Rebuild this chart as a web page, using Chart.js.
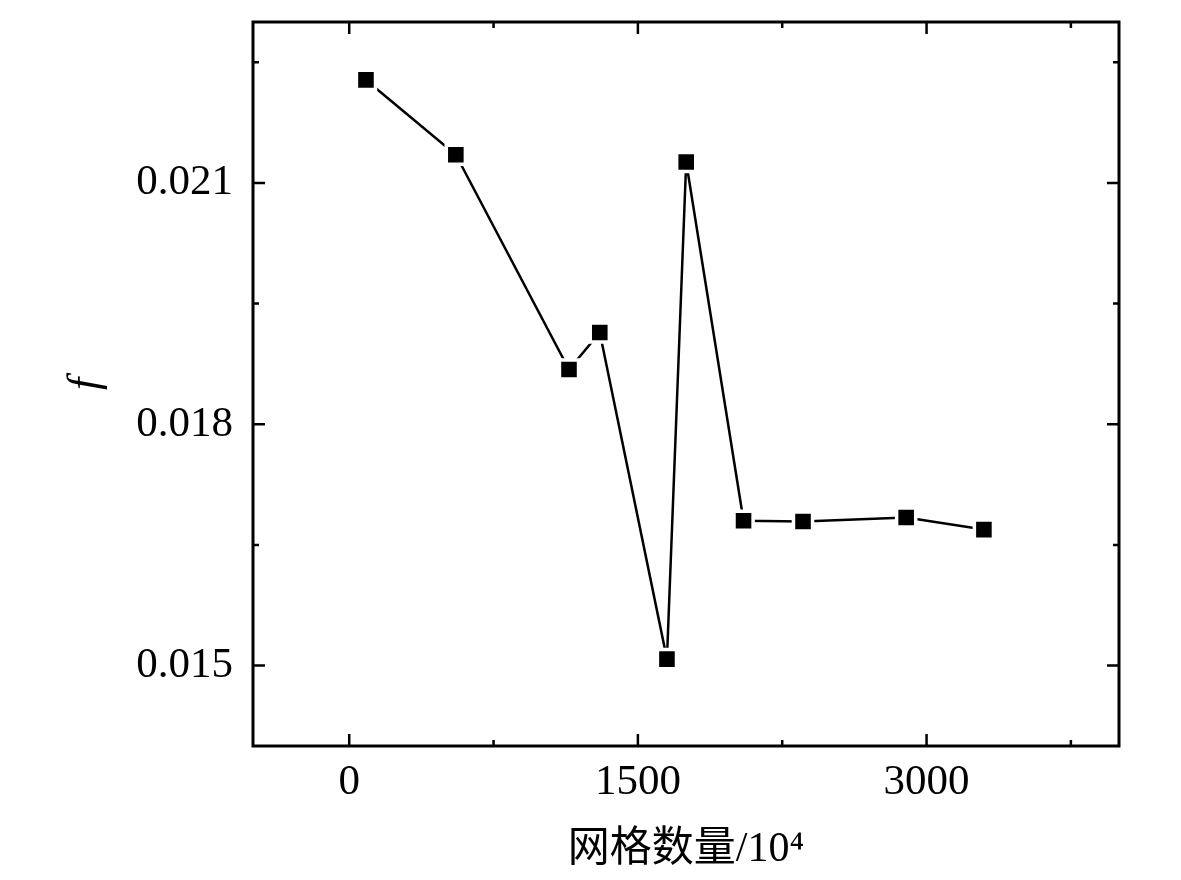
<!DOCTYPE html>
<html>
<head>
<meta charset="utf-8">
<script src="https://cdn.jsdelivr.net/npm/chart.js@4.4.1/dist/chart.umd.min.js"></script>
<style>
  html, body { margin: 0; padding: 0; background: #fff; }
  #wrap { width: 1181px; height: 880px; }
</style>
</head>
<body>
<div id="wrap"><canvas id="fChart"></canvas></div>
<script>
// grid count (x 10^4) and friction factor f
const gridCounts = [87, 554, 1142, 1302, 1651, 1751, 2049, 2358, 2894, 3298];
const frictionF = [0.02228, 0.02135, 0.01868, 0.01914, 0.01508, 0.02126, 0.01680, 0.01679, 0.01684, 0.01669];

// major (labelled) and all tick positions
const xLabels = [0, 1500, 3000];
const xTicks = [0, 750, 1500, 2250, 3000, 3750];
const yLabels = [0.015, 0.018, 0.021];
const yTicks = [0.0150, 0.0165, 0.0180, 0.0195, 0.0210, 0.0225];

const points = gridCounts.map((x, i) => ({ x: x, y: frictionF[i] }));

const isMajor = (list, v) => list.some(l => Math.abs(l - v) < 1e-9);

// frame + inward ticks on all four sides
const frameTicks = {
    id: 'frameTicks',
    afterDraw(chart) {
        const ctx = chart.ctx;
        const a = chart.chartArea;
        const xs = chart.scales.x;
        const ys = chart.scales.y;
        ctx.save();
        ctx.strokeStyle = '#000';
        ctx.lineWidth = 2.5;
        xs.ticks.forEach(t => {
            const px = xs.getPixelForValue(t.value);
            const len = isMajor(xLabels, t.value) ? 12 : 6;
            ctx.beginPath();
            ctx.moveTo(px, a.bottom); ctx.lineTo(px, a.bottom - len);
            ctx.moveTo(px, a.top); ctx.lineTo(px, a.top + len);
            ctx.stroke();
        });
        ys.ticks.forEach(t => {
            const py = ys.getPixelForValue(t.value);
            const len = isMajor(yLabels, t.value) ? 12 : 6;
            ctx.beginPath();
            ctx.moveTo(a.left, py); ctx.lineTo(a.left + len, py);
            ctx.moveTo(a.right, py); ctx.lineTo(a.right - len, py);
            ctx.stroke();
        });
        ctx.lineWidth = 3;
        ctx.strokeRect(a.left, a.top, a.right - a.left, a.bottom - a.top);
        ctx.restore();
    }
};

document.addEventListener("DOMContentLoaded", () => {
    const ctx = document.getElementById('fChart').getContext('2d');
    new Chart(ctx, {
        type: 'line',
        data: {
            datasets: [{
                data: points,
                borderColor: '#000',
                borderWidth: 2.5,
                backgroundColor: '#000',
                pointStyle: 'rect',
                pointRadius: 13.5,
                pointBorderWidth: 3.5,
                pointBorderColor: '#fff',
                pointBackgroundColor: '#000',
                tension: 0
            }]
        },
        options: {
            responsive: true,
            maintainAspectRatio: false,
            animation: false,
            events: [],
            layout: { padding: { top: 22, right: 62, left: 0, bottom: 0 } },
            plugins: {
                legend: { display: false },
                tooltip: { enabled: false }
            },
            scales: {
                x: {
                    type: 'linear',
                    min: -500,
                    max: 4000,
                    afterBuildTicks(s) { s.ticks = xTicks.map(v => ({ value: v })); },
                    afterFit(s) { s.height = 134; s.paddingLeft = 0; s.paddingRight = 0; },
                    grid: { display: false, drawTicks: false },
                    border: { display: false },
                    ticks: {
                        padding: 11,
                        color: '#000',
                        maxRotation: 0,
                        autoSkip: false,
                        font: { family: "'Liberation Serif', 'Times New Roman', serif", size: 43 },
                        callback: v => isMajor(xLabels, v) ? String(v) : ''
                    },
                    title: {
                        display: true,
                        text: '网格数量/10⁴',
                        color: '#000',
                        padding: { top: 0, bottom: 5 },
                        font: { family: "'Liberation Serif', 'Noto Sans CJK SC', serif", size: 42 }
                    }
                },
                y: {
                    min: 0.014,
                    max: 0.023,
                    afterBuildTicks(s) { s.ticks = yTicks.map(v => ({ value: v })); },
                    afterFit(s) { s.width = 253; s.paddingTop = 0; s.paddingBottom = 0; },
                    grid: { display: false, drawTicks: false },
                    border: { display: false },
                    ticks: {
                        padding: 20,
                        color: '#000',
                        autoSkip: false,
                        font: { family: "'Liberation Serif', 'Times New Roman', serif", size: 43 },
                        callback: v => isMajor(yLabels, v) ? v.toFixed(3) : ''
                    },
                    title: {
                        display: true,
                        text: 'f',
                        color: '#000',
                        padding: { top: 60, bottom: 0 },
                        font: { family: "'Liberation Serif', 'Times New Roman', serif", size: 44, style: 'italic' }
                    }
                }
            }
        },
        plugins: [frameTicks]
    });
});
</script>
</body>
</html>
